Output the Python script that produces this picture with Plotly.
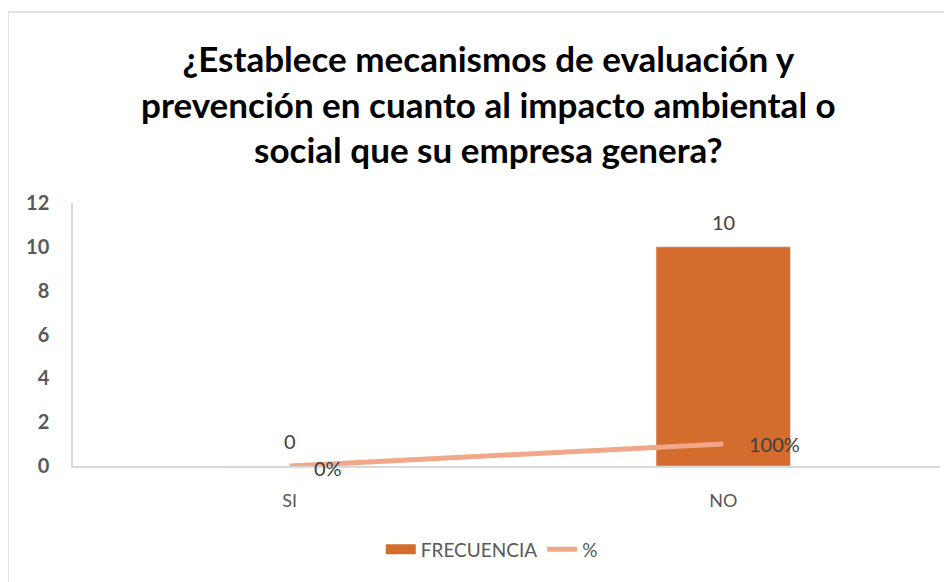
import plotly.graph_objects as go

categories = ["SI", "NO"]
frecuencia = [0, 10]
porcentaje = [0, 1]
porcentaje_labels = ["0%", "100%"]
title_text = "¿Establece mecanismos de evaluación y<br>prevención en cuanto al impacto ambiental o<br>social que su empresa genera?"

bar_color = "#D36C2C"
line_color = "#F1A88A"

fig = go.Figure()
fig.add_trace(go.Bar(
    x=categories, y=frecuencia, name="FRECUENCIA",
    marker=dict(color=bar_color),
    width=0.31, showlegend=False, legendgroup="f",
    cliponaxis=False,
))
# legend entry drawn as a wide band, like the reference's legend key
fig.add_trace(go.Scatter(
    x=[None], y=[None], name="FRECUENCIA", mode="lines", legendgroup="f",
    line=dict(color=bar_color, width=10),
))
fig.add_trace(go.Scatter(
    x=categories, y=porcentaje, name="%", mode="lines",
    line=dict(color=line_color, width=5),
    cliponaxis=False,
))

annotations = []
for c, v in zip(categories, frecuencia):
    annotations.append(dict(x=c, y=v, xref="x", yref="y", text=str(v), showarrow=False,
                            yshift=25, font=dict(size=20, color="#404040")))
for c, v, t, dy, dx in zip(categories, porcentaje, porcentaje_labels, [-2, 0], [22, 24]):
    annotations.append(dict(x=c, y=v, xref="x", yref="y", text=t, showarrow=False,
                            xanchor="left", xshift=dx, yshift=dy,
                            font=dict(size=20, color="#404040")))
annotations.append(dict(x=0.479, y=1.38, xref="paper", yref="paper", text=title_text,
                        showarrow=False, xanchor="center", yanchor="middle",
                        font=dict(size=35, color="#000000", family="Lato, 'Open Sans', sans-serif",
                                  weight="bold")))

fig.update_layout(
    width=952, height=582,
    margin=dict(l=65, r=20, t=195, b=124, autoexpand=False),
    paper_bgcolor="white", plot_bgcolor="white",
    font=dict(family="Lato, 'Open Sans', sans-serif", color="#595959"),
    bargap=0.69,
    showlegend=True,
    legend=dict(orientation="h", x=0.483, xanchor="center", y=-0.245, yanchor="top",
                font=dict(size=19, color="#595959")),
    xaxis=dict(showline=True, linecolor="#D9D9D9", linewidth=1.5, ticks="", automargin=False,
               tickfont=dict(size=18, color="#595959"), showgrid=False, ticklabelstandoff=18),
    yaxis=dict(range=[0, 12], dtick=2, showline=True, linecolor="#D9D9D9", linewidth=1.5,
               showgrid=False, zeroline=False, ticks="", automargin=False,
               tickfont=dict(size=20, color="#595959", weight="bold"), ticklabelstandoff=18),
    annotations=annotations,
    shapes=[dict(type="rect", xref="paper", yref="paper", x0=-0.075, x1=1.2, y0=-0.6, y1=1.726,
                 line=dict(color="#D9D9D9", width=1.5), fillcolor="rgba(0,0,0,0)", layer="below")],
)

fig.write_html("out.html")
